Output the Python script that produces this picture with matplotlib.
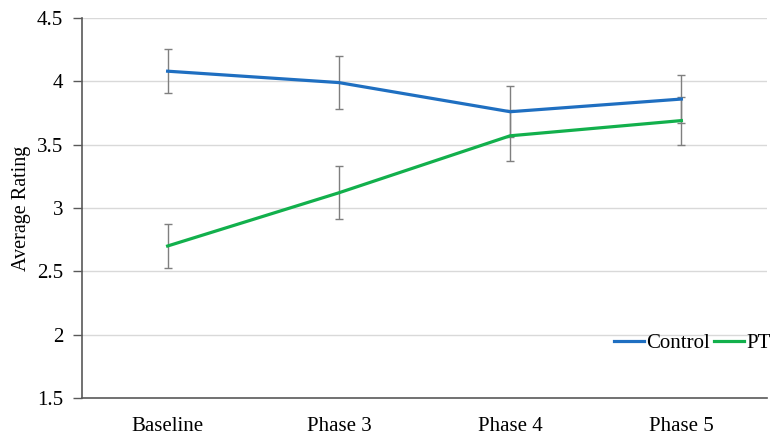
import numpy as np
import matplotlib as mpl
mpl.use('Agg')
import matplotlib.pyplot as plt

#
#--- ratings per phase, with error bar half widths
#
phases      = ['Baseline', 'Phase 3', 'Phase 4', 'Phase 5']
control     = [4.08, 3.99, 3.76, 3.86]
control_err = [0.175, 0.21, 0.20, 0.19]
pt          = [2.70, 3.12, 3.57, 3.69]
pt_err      = [0.175, 0.21, 0.20, 0.19]
yticks      = [1.5, 2, 2.5, 3, 3.5, 4, 4.5]
ytick_lbl   = ['1.5', '2', '2.5', '3', '3.5', '4', '4.5']

plt.rcParams['font.family'] = ['Liberation Serif', 'DejaVu Serif']

fig = plt.figure(figsize=(7.75, 4.43), dpi=100)
ax  = fig.add_axes([0.1058, 0.1016, 0.8839, 0.8578])

xpos = np.arange(len(phases))
#
#--- horizontal grid lines
#
for yv in yticks[1:]:
    ax.axhline(yv, color='#d9d9d9', lw=1.0, zorder=0)
#
#--- error bars, then the two lines
#
ax.errorbar(xpos, control, yerr=control_err, fmt='none', ecolor='#7f7f7f',
            elinewidth=1.0, capsize=3, capthick=1.0, zorder=2)
ax.errorbar(xpos, pt, yerr=pt_err, fmt='none', ecolor='#7f7f7f',
            elinewidth=1.0, capsize=3, capthick=1.0, zorder=2)

ax.plot(xpos, control, color='#1f6fc1', lw=2.3, label='Control', zorder=3)
ax.plot(xpos, pt,      color='#12b04c', lw=2.3, label='PT', zorder=3)
#
#--- axes settings
#
ax.set_xlim(-0.5, len(phases) - 0.5)
ax.set_ylim(1.5, 4.5)
ax.set_xticks(xpos)
ax.set_xticklabels(phases, fontsize=15)
ax.set_yticks(yticks)
ax.set_yticklabels(ytick_lbl, fontsize=15)
ax.tick_params(axis='x', length=0, pad=14)
ax.tick_params(axis='y', length=6.5, width=1, color='#595959', pad=7)

for side in ['top', 'right']:
    ax.spines[side].set_visible(False)
for side in ['left', 'bottom']:
    ax.spines[side].set_color('#595959')
    ax.spines[side].set_linewidth(1.2)

ax.set_ylabel('Average Rating', fontsize=14.5, labelpad=4)
#
#--- legend in lower right
#
ax.legend(loc='center right', bbox_to_anchor=(1.017, 0.143), ncol=2, frameon=False,
          fontsize=15, handlelength=1.45, handletextpad=0.08, columnspacing=0.2,
          borderaxespad=0)

plt.savefig('out.png', dpi=100)
